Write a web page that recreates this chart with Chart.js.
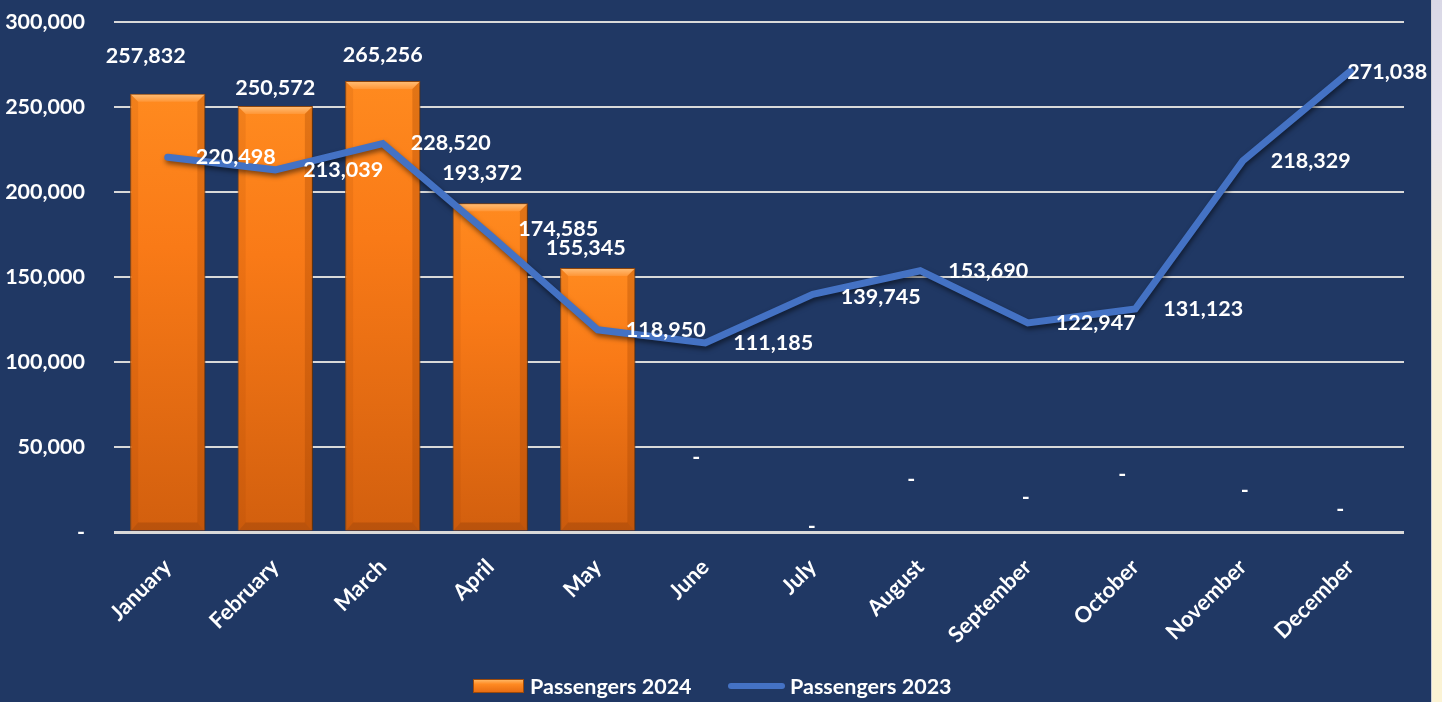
<!DOCTYPE html>
<html lang="en">
<head>
<meta charset="UTF-8">
<title>Passengers 2024 vs 2023</title>
<script src="https://cdn.jsdelivr.net/npm/chart.js"></script>
<style>
  html, body { margin: 0; padding: 0; background: #203864; overflow: hidden; }
  body { width: 1442px; height: 702px; position: relative; font-family: Lato, "Open Sans", sans-serif; }
  #wrap { position: absolute; left: 0; top: 0; width: 1432px; height: 702px; }
  #side {
    position: absolute; left: 1431px; top: 0; width: 11px; height: 702px;
    border-left: 1px solid #cfd0d8;
    background: linear-gradient(to bottom, #d9d8e6 0%, #e6e3ee 18%, #f6efd8 40%, #fbf3d4 100%);
  }
  .leg { position: absolute; top: 673px; color: #fff; font: bold 21.5px Lato, sans-serif; line-height: 26px; white-space: nowrap; }
  .swatch-bar {
    position: absolute; top: 679px; left: 473px; width: 49px; height: 12px;
    border: 1px solid #9c4a0b;
    background: linear-gradient(to bottom, #ffb561 0%, #ff8a22 35%, #e86d12 100%);
  }
  .swatch-line { position: absolute; top: 683px; left: 728px; width: 57px; height: 6px; border-radius: 3px; background: #4472c4; }
</style>
</head>
<body>
  <div id="wrap"><canvas id="passengerChart" width="1432" height="702"></canvas></div>
  <div id="side"></div>
  <div class="swatch-bar"></div>
  <div class="leg" style="left:530px">Passengers 2024</div>
  <div class="swatch-line"></div>
  <div class="leg" style="left:790px">Passengers 2023</div>

<script>
  // chart data
  const months = ['January', 'February', 'March', 'April', 'May', 'June',
                  'July', 'August', 'September', 'October', 'November', 'December'];
  const passengers2024 = [257832, 250572, 265256, 193372, 155345, 0, 0, 0, 0, 0, 0, 0];
  const passengers2023 = [220498, 213039, 228520, 174585, 118950, 111185, 139745, 153690, 122947, 131123, 218329, 271038];
  const yTickValues = [0, 50000, 100000, 150000, 200000, 250000, 300000];

  // label nudges (px) - the labels in the original were dragged around by hand
  const barLabelShift = [[-22, -20], [0, 0], [0, -8], [-8, -12], [-12, -2], [-9, -57],
                         [-1, 12], [-9, -35], [-2, -17], [-13, -40], [2, -24], [-10, -5]];
  const lineLabelShift = [[0, 0], [0, 0], [0, 0], [0, -6], [0, 0], [0, 0],
                          [0, 3], [0, 0], [0, 0], [0, 0], [0, 0], [-31, 1]];

  const fmt = v => v === 0 ? '-' : v.toLocaleString('en-US');
  const labelFont = 'bold 21.5px Lato, sans-serif';

  function barFill(ctx) {
    const chart = ctx.chart;
    if (!chart.chartArea) return '#f57a18';
    const y = chart.scales.y;
    const top = y.getPixelForValue(ctx.raw || 0);
    const base = y.getPixelForValue(0);
    if (base - top < 2) return '#f57a18';
    const g = chart.ctx.createLinearGradient(0, top, 0, base);
    g.addColorStop(0, '#ff8a1f');
    g.addColorStop(0.35, '#f97a17');
    g.addColorStop(1, '#d25f0e');
    return g;
  }

  // shadows under the bars and the line
  const shadowPlugin = {
    id: 'shadows',
    beforeDatasetDraw(chart, args) {
      const c = chart.ctx;
      c.save();
      if (args.meta.type === 'line') {
        c.shadowColor = 'rgba(0,0,0,0.5)';
        c.shadowBlur = 5;
        c.shadowOffsetX = 1;
        c.shadowOffsetY = 3;
      } else {
        c.shadowColor = 'rgba(0,0,0,0.45)';
        c.shadowBlur = 6;
        c.shadowOffsetX = 3;
        c.shadowOffsetY = 1;
      }
    },
    afterDatasetDraw(chart, args) {
      chart.ctx.restore();
      if (args.meta.type !== 'bar') return;
      // bevel on the bars
      const c = chart.ctx;
      args.meta.data.forEach(el => {
        const p = el.getProps(['x', 'y', 'base', 'width'], true);
        const h = p.base - p.y;
        if (h < 4) return;
        const l = p.x - p.width / 2, r = p.x + p.width / 2, b = 8;
        c.save();
        let g = c.createLinearGradient(0, p.y, 0, p.y + b);
        g.addColorStop(0, '#ffc07a');
        g.addColorStop(1, '#ff9636');
        c.fillStyle = g;
        c.beginPath();
        c.moveTo(l + 1, p.y + 1); c.lineTo(r - 1, p.y + 1); c.lineTo(r - b, p.y + b); c.lineTo(l + b, p.y + b);
        c.closePath(); c.fill();
        // right edge darker
        c.fillStyle = 'rgba(150,60,0,0.28)';
        c.beginPath();
        c.moveTo(r - 1, p.y + 1); c.lineTo(r - 1, p.base); c.lineTo(r - b, p.base - b); c.lineTo(r - b, p.y + b);
        c.closePath(); c.fill();
        // left edge slightly darker
        c.fillStyle = 'rgba(150,60,0,0.12)';
        c.beginPath();
        c.moveTo(l + 1, p.y + 1); c.lineTo(l + b, p.y + b); c.lineTo(l + b, p.base - b); c.lineTo(l + 1, p.base);
        c.closePath(); c.fill();
        // bottom bevel
        c.fillStyle = 'rgba(140,60,10,0.35)';
        c.beginPath();
        c.moveTo(l + 1, p.base); c.lineTo(r - 1, p.base); c.lineTo(r - b, p.base - b); c.lineTo(l + b, p.base - b);
        c.closePath(); c.fill();
        c.restore();
      });
    }
  };

  // data labels
  const labelPlugin = {
    id: 'valueLabels',
    afterDatasetsDraw(chart) {
      const c = chart.ctx;
      c.save();
      c.font = labelFont;
      c.fillStyle = '#ffffff';
      c.textBaseline = 'middle';
      chart.data.datasets.forEach((ds, di) => {
        const meta = chart.getDatasetMeta(di);
        meta.data.forEach((el, i) => {
          const v = ds.data[i];
          if (meta.type === 'bar') {
            const s = barLabelShift[i];
            c.textAlign = 'center';
            c.fillText(fmt(v), el.x + s[0], el.y - 18 + s[1]);
          } else {
            const s = lineLabelShift[i];
            c.textAlign = 'left';
            c.fillText(fmt(v), el.x + 28 + s[0], el.y + s[1]);
          }
        });
      });
      c.restore();
    }
  };

  const ctx = document.getElementById('passengerChart').getContext('2d');
  new Chart(ctx, {
    data: {
      labels: months,
      datasets: [
        {
          type: 'line',
          label: 'Passengers 2023',
          data: passengers2023,
          borderColor: '#4472c4',
          backgroundColor: '#4472c4',
          borderWidth: 7,
          borderCapStyle: 'round',
          borderJoinStyle: 'miter',
          pointRadius: 0,
          tension: 0,
          order: 0
        },
        {
          type: 'bar',
          label: 'Passengers 2024',
          data: passengers2024,
          backgroundColor: barFill,
          borderColor: '#a4500c',
          borderWidth: c => (c.raw ? 1 : 0),
          barPercentage: 0.7,
          categoryPercentage: 1.0,
          order: 1
        }
      ]
    },
    options: {
      responsive: false,
      animation: false,
      events: [],
      layout: { padding: { top: 22, right: 28, left: 0, bottom: 0 } },
      plugins: {
        legend: { display: false },
        tooltip: { enabled: false }
      },
      scales: {
        x: {
          grid: { display: false },
          border: { display: false },
          ticks: {
            color: '#ffffff',
            font: { family: 'Lato', weight: 'bold', size: 22 },
            maxRotation: 45,
            minRotation: 45,
            autoSkip: false,
            padding: 14
          },
          afterFit(scale) { scale.height = 170; }
        },
        y: {
          min: 0,
          max: 300000,
          border: { display: false },
          grid: {
            color: '#d9d9d9',
            lineWidth: c => (c.tick && c.tick.value === 0 ? 3 : 2),
            drawTicks: false
          },
          ticks: {
            color: '#ffffff',
            font: { family: 'Lato', weight: 'bold', size: 21.5 },
            padding: 29,
            callback: v => fmt(v)
          },
          afterBuildTicks(scale) { scale.ticks = yTickValues.map(v => ({ value: v })); },
          afterFit(scale) {
            scale.width = 114;
            scale.paddingTop = 0;
            scale.paddingBottom = 0;
          }
        }
      }
    },
    plugins: [shadowPlugin, labelPlugin]
  });
</script>
</body>
</html>
